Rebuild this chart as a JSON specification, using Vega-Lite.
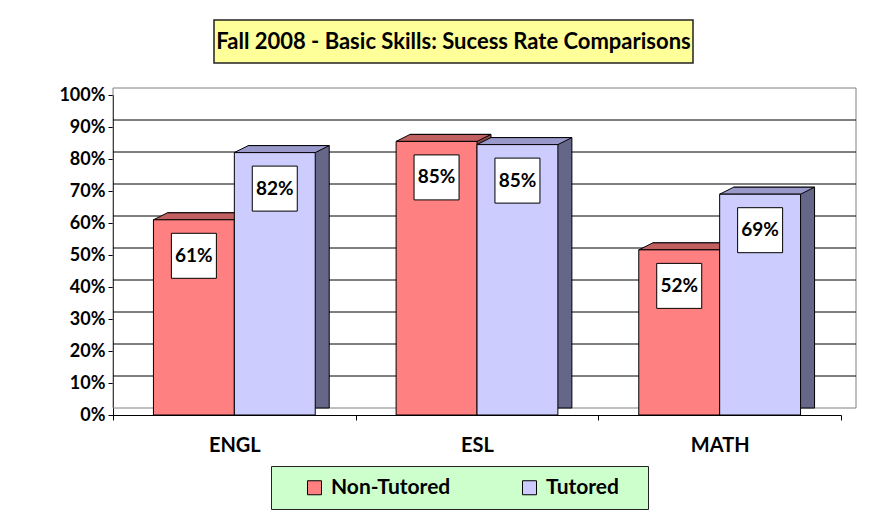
{
  "$schema": "https://vega.github.io/schema/vega-lite/v6.json",
  "background": "white",
  "padding": {"left": 58, "top": 16, "right": 5, "bottom": 5},
  "bounds": "flush",
  "center": true,
  "spacing": 32,
  "config": {
    "font": "Lato",
    "view": {"stroke": null},
    "axis": {"labelOverlap": false},
    "axisQuantitative": {"labelOverlap": false, "tickCount": 11},
    "axisY": {"labelOverlap": false, "grid": false, "domainColor": "black", "tickColor": "black", "tickSize": 5, "labelPadding": 3,
              "labelFontSize": 18, "labelFontWeight": "bold", "labelColor": "black", "tickCount": 11, "labelSeparation": -50}
  },
  "datasets": {
    "rates": [
      {"subject": "ENGL", "group": "Non-Tutored", "bar": "ENGL Non-Tutored", "rate": 0.61, "label": "61%"},
      {"subject": "ENGL", "group": "Tutored", "bar": "ENGL Tutored", "rate": 0.82, "label": "82%"},
      {"subject": "ESL", "group": "Non-Tutored", "bar": "ESL Non-Tutored", "rate": 0.855, "label": "85%"},
      {"subject": "ESL", "group": "Tutored", "bar": "ESL Tutored", "rate": 0.845, "label": "85%"},
      {"subject": "MATH", "group": "Non-Tutored", "bar": "MATH Non-Tutored", "rate": 0.516, "label": "52%"},
      {"subject": "MATH", "group": "Tutored", "bar": "MATH Tutored", "rate": 0.69, "label": "69%"}
    ],
    "grid": [
      {"v": 0.1}, {"v": 0.2}, {"v": 0.3}, {"v": 0.4}, {"v": 0.5},
      {"v": 0.6}, {"v": 0.7}, {"v": 0.8}, {"v": 0.9}
    ]
  },
  "vconcat": [
    {
      "width": 526, "height": 43,
      "data": {"values": [{"t": "Fall 2008 - Basic Skills: Sucess Rate Comparisons"}]},
      "layer": [
        {
          "mark": {"type": "point", "filled": true, "fill": "#ffff99", "opacity": 1, "stroke": "#222222", "strokeWidth": 1.5,
                   "shape": "M-1,-0.0898L1,-0.0898L1,0.0898L-1,0.0898Z", "size": 229441, "xOffset": -23.5}
        },
        {
          "mark": {"type": "text", "fontSize": 22, "fontWeight": "bold", "color": "black", "baseline": "middle", "align": "center", "dx": -23.5},
          "encoding": {"text": {"field": "t"}}
        }
      ]
    },
    {
      "width": 728,
      "height": 320,
      "data": {"name": "rates"},
      "resolve": {"scale": {"x": "independent"}, "axis": {"x": "independent"}},
      "layer": [
        {
          "data": {"values": [{}]},
          "mark": {"type": "rect", "fillOpacity": 0, "stroke": "#808080", "strokeWidth": 1, "xOffset": 15, "x2Offset": 15, "yOffset": -7, "y2Offset": -7},
          "encoding": {
            "y": {"datum": 0, "type": "quantitative", "scale": {"domain": [0, 1], "nice": false}, "title": null,
                  "axis": {"title": null, "values": [0, 0.1, 0.2, 0.3, 0.4, 0.5, 0.6, 0.7, 0.8, 0.9, 1], "tickCount": 11, "format": ".0%", "labelOverlap": false, "labelSeparation": -50}},
            "y2": {"datum": 1}
          }
        },
        {
          "data": {"name": "grid"},
          "mark": {"type": "rule", "color": "black", "strokeWidth": 1, "xOffset": 15, "x2Offset": 15, "yOffset": -7},
          "encoding": {
            "y": {"field": "v", "type": "quantitative", "title": null}
          }
        },
        {
          "encoding": {
            "x": {"field": "bar", "type": "nominal", "axis": null,
                  "scale": {"domain": ["ENGL Non-Tutored", "ENGL Tutored", "_1", "ESL Non-Tutored", "ESL Tutored", "_2", "MATH Non-Tutored", "MATH Tutored"], "paddingInner": 0, "paddingOuter": 0.5}},
            "y": {"field": "rate", "type": "quantitative", "title": null}
          },
          "layer": [
            {
              "mark": {"type": "bar", "stroke": "black", "strokeWidth": 1, "xOffset": 14, "x2Offset": 14, "yOffset": -7, "y2Offset": -7},
              "encoding": {
                "fill": {"condition": {"test": "datum.group === 'Tutored'", "value": "#666688"}, "value": "#8a4444"}
              }
            },
            {
              "mark": {"type": "point", "filled": true, "opacity": 1, "stroke": "black", "strokeWidth": 1, "size": 11859,
                       "shape": "M-0.743,0L-0.486,-0.1286L1,-0.1286L0.743,0Z"},
              "encoding": {
                "fill": {"condition": {"test": "datum.group === 'Tutored'", "value": "#9999cc"}, "value": "#c06060"}
              }
            },
            {
              "mark": {"type": "bar", "stroke": "black", "strokeWidth": 1},
              "encoding": {
                "fill": {"field": "group", "type": "nominal",
                         "scale": {"domain": ["Non-Tutored", "Tutored"], "range": ["#ff8080", "#ccccff"]},
                         "legend": {"title": "\u00a0", "titleOrient": "right", "titlePadding": 18, "titleFontSize": 12,
                                    "orient": "none", "legendX": 158, "legendY": 446, "direction": "horizontal",
                                    "fillColor": "#ccffcc", "strokeColor": "#222222", "padding": 11,
                                    "symbolType": "square", "symbolSize": 196, "symbolStrokeColor": "black", "symbolStrokeWidth": 1,
                                    "symbolOffset": 22, "labelOffset": 6, "columnPadding": 46,
                                    "labelFontSize": 21, "labelFontWeight": "bold", "labelColor": "black"}}
              }
            },
            {
              "mark": {"type": "point", "shape": "square", "size": 2025, "filled": true, "fill": "white", "stroke": "black", "strokeWidth": 1, "opacity": 1, "yOffset": 36}
            },
            {
              "mark": {"type": "text", "fontSize": 19, "fontWeight": "bold", "color": "black", "baseline": "middle", "align": "center", "yOffset": 36},
              "encoding": {"text": {"field": "label"}}
            }
          ]
        },
        {
          "mark": {"type": "point", "opacity": 0},
          "encoding": {
            "x": {"field": "subject", "type": "nominal",
                  "scale": {"domain": ["ENGL", "ESL", "MATH"], "paddingInner": 0, "paddingOuter": 0},
                  "axis": {"title": null, "labelAngle": 0, "tickBand": "extent", "domainColor": "black", "tickColor": "black",
                           "tickSize": 5, "labelFontSize": 20, "labelFontWeight": "bold", "labelColor": "black", "labelPadding": 15}}
          }
        }
      ]
    }
  ]
}
